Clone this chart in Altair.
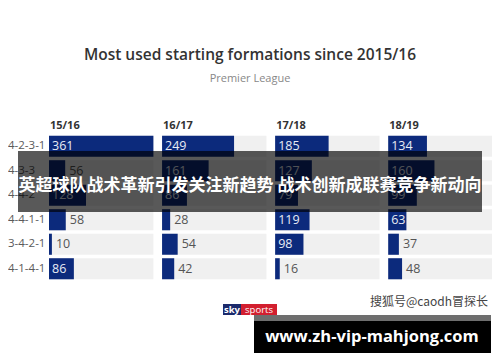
import altair as alt
import pandas as pd

seasons = ["15/16", "16/17", "17/18", "18/19"]
formations = ["4-2-3-1", "4-3-3", "4-4-2", "4-4-1-1", "3-4-2-1", "4-1-4-1"]
v1516 = [361, 56, 128, 58, 10, 86]
v1617 = [249, 161, 86, 28, 54, 42]
v1718 = [185, 127, 79, 119, 98, 16]
v1819 = [134, 160, 99, 63, 37, 48]
series = [v1516, v1617, v1718, v1819]

title_text = "Most used starting formations since 2015/16"
subtitle_text = "Premier League"
banner_text = "英超球队战术革新引发关注新趋势 战术创新成联赛竞争新动向"
watermark_text = "搜狐号@caodh冒探长"
site_text = "www.zh-vip-mahjong.com"

rows = []
for i, s in enumerate(seasons):
    for f, v in zip(formations, series[i]):
        rows.append({"season": s, "idx": i, "formation": f, "value": v})
df = pd.DataFrame(rows)

STRIDE = 391
MAXV = 361
FONT = "Open Sans"
BLUE = "#0c2a7c"

base = alt.Chart(df).transform_calculate(
    start=f"datum.idx*{STRIDE}",
    end=f"datum.idx*{STRIDE}+datum.value",
    bgend=f"datum.idx*{STRIDE}+{MAXV}",
)

xs = alt.Scale(domain=[0, 1532], nice=False, zero=False)
ys = alt.Scale(domain=formations, paddingInner=0.14, paddingOuter=0.07)
X = lambda f: alt.X(f"{f}:Q", scale=xs, axis=None)
Y = alt.Y("formation:N", scale=ys, axis=None, sort=formations)

bg = base.mark_bar(color="#f0f0f0").encode(x=X("start"), x2="bgend:Q", y=Y)
bars = base.mark_bar(color=BLUE).encode(x=X("start"), x2="end:Q", y=Y)
lab_in = base.transform_filter("datum.value >= 60").mark_text(
    align="left", baseline="middle", dx=3, fontSize=12.5, font=FONT, color="#e8ecf5"
).encode(x=X("start"), y=Y, text="value:Q")
lab_out = base.transform_filter("datum.value < 60").mark_text(
    align="left", baseline="middle", dx=4, fontSize=12.5, font=FONT, color="#555555"
).encode(x=X("end"), y=Y, text="value:Q")
rowlab = base.transform_filter("datum.idx == 0").mark_text(
    align="left", baseline="middle", fontSize=11.5, font=FONT, color="#5a5a5a"
).encode(x=alt.value(-41), y=Y, text="formation:N")
heads = base.transform_filter(f"datum.formation == '{formations[0]}'").mark_text(
    align="left", baseline="middle", dx=1, fontSize=11, font=FONT, fontWeight="bold", color="#333333"
).encode(x=X("start"), y=alt.value(-8), text="season:N")

one = pd.DataFrame({"k": [0]})
def txt(t, x, y, **kw):
    return alt.Chart(pd.DataFrame({"t": [t]})).mark_text(baseline="middle", **kw).encode(
        x=alt.value(x), y=alt.value(y), text="t:N")
def box(x, x2, y, y2, color, opacity=1.0):
    return alt.Chart(one).mark_rect(color=color, opacity=opacity).encode(
        x=alt.value(x), x2=alt.value(x2), y=alt.value(y), y2=alt.value(y2))

title = txt(title_text, 201, -79, align="center", fontSize=15.5, font=FONT, fontWeight=600, color="#333333")
subtitle = txt(subtitle_text, 201, -55, align="center", fontSize=11, font=FONT, color="#888888")

sky1 = box(174, 192, 170, 181, "#1b2a6b")
sky2 = box(192, 228, 170, 181, "#d21f2f")
skyt1 = txt("sky", 183, 175.5, align="center", fontSize=9.5, font=FONT, fontWeight="bold", color="white")
skyt2 = txt("sports", 210, 175.5, align="center", fontSize=9.5, font=FONT, color="white")
wm = txt(watermark_text, 439, 168, align="right", fontSize=12, font="Noto Sans CJK SC", color="#444444")

banner = box(-31, 433, 17, 78, "black", 0.65)
banner_t = txt(banner_text, 201, 52, align="center", fontSize=17, font="Noto Sans CJK SC", fontWeight="bold", color="white")

blk = box(205, 442, 181, 219, "black")
strip = box(205, 442, 181, 187, "#6e6e6e")
site = txt(site_text, 323, 203, align="center", fontSize=16.5, font=FONT, fontWeight="bold", color="white")

chart = alt.layer(
    bg, bars, lab_in, lab_out, rowlab, heads, title, subtitle,
    sky1, sky2, skyt1, skyt2, wm, banner, banner_t, blk, strip, site
).properties(
    width=443, height=147,
    autosize=alt.AutoSizeParams(type="none"),
    padding={"left": 41, "top": 126, "right": 0, "bottom": 73},
    background="white",
).configure_view(stroke=None)

chart.save("out.html", embed_options={"renderer": "svg", "actions": False})
